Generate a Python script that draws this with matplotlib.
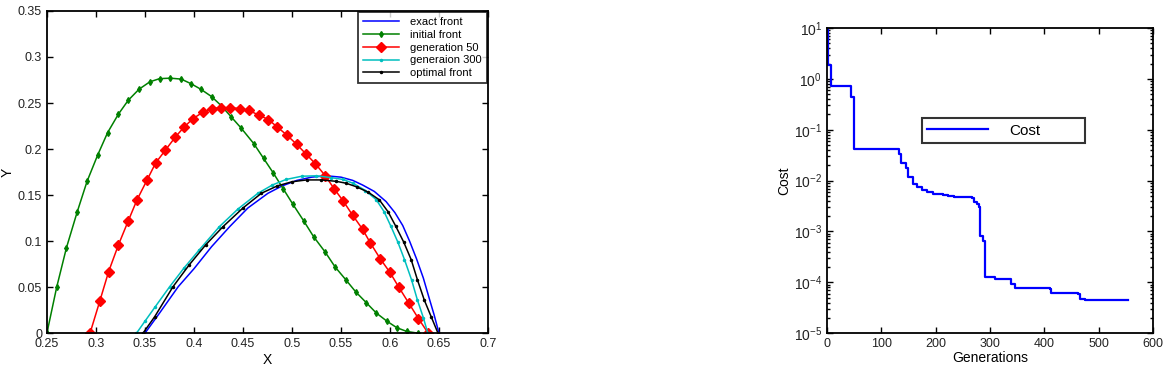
import numpy as np
import matplotlib
matplotlib.use("Agg")
from matplotlib import pyplot as plt
from matplotlib.ticker import LogLocator, NullFormatter

plt.rcParams['font.family'] = ['Liberation Sans', 'DejaVu Sans']
plt.rcParams['mathtext.default'] = 'regular'

# left panel: pareto fronts (x, y pairs)
exact_x = [0.350, 0.365, 0.384, 0.400, 0.418, 0.4365, 0.455, 0.4755, 0.490, 0.505, 0.520,
           0.535, 0.550, 0.562, 0.572, 0.584, 0.596, 0.605, 0.613, 0.620, 0.627, 0.634,
           0.640, 0.645, 0.650]
exact_y = [0.0, 0.022, 0.0506, 0.070, 0.094, 0.1158, 0.136, 0.152, 0.160, 0.166, 0.1695,
           0.171, 0.1695, 0.166, 0.161, 0.154, 0.143, 0.131, 0.117, 0.100, 0.081, 0.060,
           0.038, 0.020, 0.0]

initial_x = [0.250, 0.260, 0.270, 0.281, 0.291, 0.302, 0.312, 0.323, 0.333, 0.344, 0.355,
             0.365, 0.376, 0.387, 0.397, 0.407, 0.418, 0.428, 0.438, 0.448, 0.461, 0.471,
             0.481, 0.491, 0.501, 0.512, 0.522, 0.534, 0.544, 0.555, 0.565, 0.576, 0.586,
             0.597, 0.607, 0.617, 0.629]
initial_y = [0.0, 0.050, 0.093, 0.132, 0.165, 0.194, 0.218, 0.238, 0.253, 0.265, 0.273,
             0.2765, 0.277, 0.276, 0.271, 0.265, 0.257, 0.247, 0.235, 0.223, 0.206, 0.190,
             0.174, 0.157, 0.140, 0.122, 0.105, 0.088, 0.072, 0.058, 0.045, 0.033, 0.022,
             0.013, 0.006, 0.002, 0.0]

gen50_x = [0.294, 0.304, 0.313, 0.323, 0.333, 0.342, 0.352, 0.361, 0.371, 0.381, 0.390,
           0.399, 0.409, 0.418, 0.428, 0.437, 0.447, 0.456, 0.466, 0.476, 0.485, 0.495,
           0.505, 0.514, 0.524, 0.534, 0.543, 0.552, 0.562, 0.572, 0.580, 0.590, 0.600,
           0.609, 0.619, 0.629, 0.639]
gen50_y = [0.0, 0.035, 0.067, 0.096, 0.122, 0.145, 0.166, 0.185, 0.199, 0.213, 0.224,
           0.233, 0.240, 0.244, 0.245, 0.245, 0.244, 0.242, 0.237, 0.232, 0.224, 0.215,
           0.205, 0.195, 0.184, 0.171, 0.157, 0.144, 0.128, 0.113, 0.098, 0.081, 0.066,
           0.050, 0.033, 0.016, 0.0]

gen300_x = [0.3414, 0.350, 0.360, 0.3753, 0.390, 0.405, 0.426, 0.445, 0.4653, 0.480, 0.494,
            0.510, 0.525, 0.540, 0.552, 0.562, 0.575, 0.586, 0.594, 0.601, 0.608, 0.6148,
            0.622, 0.628, 0.634, 0.6386]
gen300_y = [0.0, 0.013, 0.028, 0.0506, 0.071, 0.090, 0.1158, 0.135, 0.152, 0.161, 0.167,
            0.1705, 0.171, 0.169, 0.167, 0.163, 0.155, 0.145, 0.132, 0.116, 0.099, 0.080,
            0.058, 0.036, 0.017, 0.0]

optimal_x = [0.348, 0.360, 0.3787, 0.395, 0.412, 0.4297, 0.450, 0.4688, 0.485, 0.500, 0.515,
             0.530, 0.545, 0.555, 0.566, 0.578, 0.589, 0.598, 0.606, 0.614, 0.6216, 0.628,
             0.635, 0.642, 0.649]
optimal_y = [0.0, 0.018, 0.0506, 0.074, 0.096, 0.1158, 0.136, 0.152, 0.160, 0.1645, 0.1665,
             0.1665, 0.165, 0.163, 0.159, 0.153, 0.145, 0.132, 0.116, 0.099, 0.080, 0.058,
             0.036, 0.018, 0.0]

# right panel: cost per generation (step curve)
generations = [0, 1, 8, 45, 49, 132, 137, 146, 150, 158, 165, 174, 184, 196, 214, 223, 233,
               266, 270, 277, 280, 282, 287, 291, 309, 338, 346, 410, 413, 462, 465, 474, 554]
cost = [10, 1.9, 0.73, 0.45, 0.041, 0.034, 0.022, 0.0174, 0.0117, 0.0087, 0.0075, 0.0064,
        0.006, 0.0055, 0.0053, 0.0049, 0.0047, 0.0046, 0.0038, 0.0035, 0.003, 0.00083,
        0.00066, 0.000129, 0.000117, 0.000095, 0.000076, 0.000074, 0.000062, 0.000059,
        0.000048, 0.000045, 0.000045]


def style_axes(ax, size):
    for s in ax.spines.values():
        s.set_linewidth(1.3)
    ax.tick_params(which='both', direction='in', top=True, right=True,
                   labelsize=size, labelcolor='#222222', width=1.0)
    ax.tick_params(which='major', length=4)
    ax.tick_params(which='minor', length=2)


fig = plt.figure(figsize=(11.72, 3.65), dpi=100)

ax1 = fig.add_axes([0.040, 0.087, 0.3764, 0.883])
ax1.plot(exact_x, exact_y, color='#0000ff', lw=1.1, label='exact front')
ax1.plot(initial_x, initial_y, color='#008000', lw=1.1, marker='d', ms=3,
         label='initial front')
ax1.plot(gen50_x, gen50_y, color='#ff0000', lw=1.1, marker='D', ms=5,
         label='generation 50')
ax1.plot(gen300_x, gen300_y, color='#00bfbf', lw=1.1, marker='.', ms=3,
         label='generaion 300')
ax1.plot(optimal_x, optimal_y, color='black', lw=1.1, marker='.', ms=3,
         label='optimal front')
ax1.set_xlim(0.25, 0.7)
ax1.set_ylim(0, 0.35)
ax1.set_xticks(np.arange(0.25, 0.701, 0.05))
ax1.set_yticks(np.arange(0, 0.351, 0.05))
ax1.set_xticklabels(['0.25', '0.3', '0.35', '0.4', '0.45', '0.5', '0.55', '0.6', '0.65', '0.7'])
ax1.set_yticklabels(['0', '0.05', '0.1', '0.15', '0.2', '0.25', '0.3', '0.35'])
style_axes(ax1, 9)
ax1.set_xlabel('X', fontsize=10, labelpad=2)
ax1.set_ylabel('Y', fontsize=10, labelpad=2)
leg1 = ax1.legend(loc='upper right', fontsize=8, borderaxespad=0.1, labelspacing=0.25,
                  handlelength=3.3, handletextpad=1.0, fancybox=False, borderpad=0.45)
leg1.get_frame().set_edgecolor('black')
leg1.get_frame().set_linewidth(1.3)

ax2 = fig.add_axes([0.7056, 0.087, 0.2782, 0.8363])
ax2.plot(generations, cost, color='#0000ff', lw=1.6, drawstyle='steps-post', label='Cost')
ax2.set_yscale('log')
ax2.set_xlim(0, 600)
ax2.set_ylim(1e-5, 10)
ax2.yaxis.set_major_locator(LogLocator(base=10, numticks=10))
ax2.yaxis.set_minor_locator(LogLocator(base=10, subs=np.arange(2, 10), numticks=20))
ax2.yaxis.set_minor_formatter(NullFormatter())
style_axes(ax2, 9)
ax2.tick_params(axis='y', labelsize=10)
ax2.set_xlabel('Generations', fontsize=10, labelpad=1)
ax2.set_ylabel('Cost', fontsize=10, labelpad=2)
leg2 = ax2.legend(loc='lower left', bbox_to_anchor=(0.29, 0.623, 0.5, 0.087), mode='expand',
                  fontsize=11, handlelength=4.0, handletextpad=1.4, fancybox=False,
                  borderpad=0.35, borderaxespad=0)
leg2.get_frame().set_edgecolor('black')
leg2.get_frame().set_linewidth(1.5)

fig.savefig('out.png', dpi=100)
